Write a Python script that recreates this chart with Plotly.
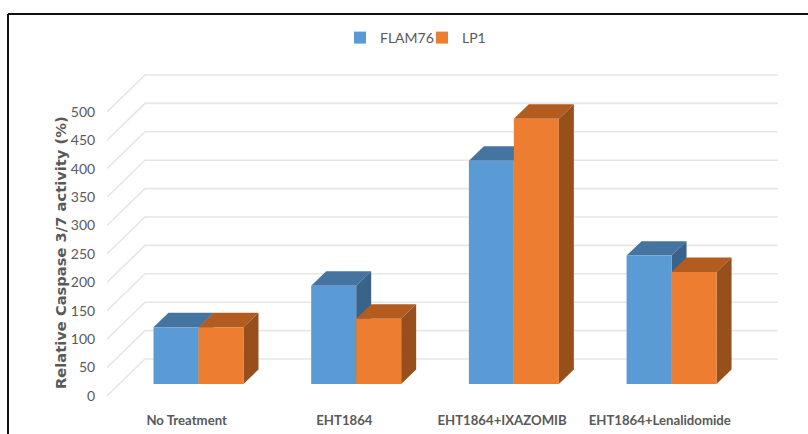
import plotly.graph_objects as go

categories = ["No Treatment", "EHT1864", "EHT1864+IXAZOMIB", "EHT1864+Lenalidomide"]
flam76 = [100, 173, 393, 226]
lp1 = [100, 115, 467, 197]
y_ticks = [0, 50, 100, 150, 200, 250, 300, 350, 400, 450, 500]

BLUE, BLUE_TOP, BLUE_SIDE = "#5B9BD5", "#44749F", "#3A6389"
ORANGE, ORANGE_TOP, ORANGE_SIDE = "#ED7D31", "#B35C20", "#974F1B"
GREY = "#595959"
FONT = "Lato"

# Oblique projection, expressed in axis units
BAR_W = 0.2853      # width of one bar (category units)
DEPTH_X = 0.0951    # horizontal shift of a bar's depth
DEPTH_Y = 25.5      # vertical shift of a bar's depth
WALL_Y = 44.0       # back wall sits this far above the bar base plane
FLOOR_Y = -21.0     # front edge of the floor, relative to the bar base plane
WALL_X0, FLOOR_X0, X1 = -0.3393, -0.5802, 3.675
LABEL_SHIFT = -0.075

fig = go.Figure()

# Back-wall gridlines with their diagonals running down to the front edge
gx, gy = [], []
for t in y_ticks:
    gx += [FLOOR_X0, WALL_X0, X1, None]
    gy += [t + FLOOR_Y, t + WALL_Y, t + WALL_Y, None]
fig.add_trace(go.Scatter(x=gx, y=gy, mode="lines", line=dict(color="#E6E6E6", width=1.6),
                         hoverinfo="skip", showlegend=False, zorder=0))


def depth_faces(x0, x1, values, top_col, side_col, z):
    """Draw the top and right faces of a row of bars."""
    for i, v in enumerate(values):
        l, r = i + x0, i + x1
        fig.add_trace(go.Scatter(
            x=[l, r, r + DEPTH_X, l + DEPTH_X, l],
            y=[v, v, v + DEPTH_Y, v + DEPTH_Y, v],
            mode="lines", fill="toself", fillcolor=top_col, line=dict(width=0),
            hoverinfo="skip", showlegend=False, zorder=z))
        fig.add_trace(go.Scatter(
            x=[r, r + DEPTH_X, r + DEPTH_X, r, r],
            y=[0, DEPTH_Y, v + DEPTH_Y, v, 0],
            mode="lines", fill="toself", fillcolor=side_col, line=dict(width=0),
            hoverinfo="skip", showlegend=False, zorder=z))


idx = list(range(len(categories)))
depth_faces(-BAR_W, 0, flam76, BLUE_TOP, BLUE_SIDE, 1)
fig.add_trace(go.Bar(x=idx, y=flam76, name="FLAM76", marker=dict(color=BLUE, line=dict(width=0)),
                     offsetgroup="a", zorder=2))
depth_faces(0, BAR_W, lp1, ORANGE_TOP, ORANGE_SIDE, 3)
fig.add_trace(go.Bar(x=idx, y=lp1, name="LP1", marker=dict(color=ORANGE, line=dict(width=0)),
                     offsetgroup="b", zorder=4))

fig.update_layout(
    width=808, height=434, margin=dict(l=0, r=0, t=0, b=0),
    paper_bgcolor="white", plot_bgcolor="white",
    barmode="group", bargap=1 - 2 * BAR_W, bargroupgap=0,
    font=dict(family=FONT, color=GREY),
    hovermode=False,
    xaxis=dict(domain=[107 / 808, 778 / 808], range=[FLOOR_X0, X1], showgrid=False, zeroline=False,
               showline=False, tickmode="array", tickvals=[i + LABEL_SHIFT for i in idx],
               ticktext=[f"<b>{c}</b>" for c in categories], ticks="outside", ticklen=3,
               tickcolor="rgba(0,0,0,0)", tickfont=dict(family=FONT, size=13.2, color=GREY)),
    yaxis=dict(domain=[29 / 434, 1], range=[-37, 676], showgrid=False, zeroline=False, showline=False,
               tickmode="array", tickvals=[t + FLOOR_Y for t in y_ticks],
               ticktext=[str(t) for t in y_ticks], ticks="outside", ticklen=8,
               tickcolor="rgba(0,0,0,0)", tickfont=dict(family=FONT, size=14, color=GREY)),
    legend=dict(orientation="h", x=340 / 808, xanchor="left", y=1 - 38 / 434, yanchor="middle",
                font=dict(family=FONT, size=14, color=GREY), itemwidth=30,
                entrywidth=37, entrywidthmode="pixels",
                bgcolor="rgba(0,0,0,0)", traceorder="normal"),
    annotations=[dict(text="<b>Relative Caspase 3/7 activity (%)</b>", textangle=-90,
                      x=60 / 808, y=1 - 253 / 434, xref="paper", yref="paper", showarrow=False,
                      xanchor="center", yanchor="middle",
                      font=dict(family="DejaVu Sans", size=14.7, color=GREY))],
    shapes=[
        dict(type="line", xref="paper", yref="paper", x0=8 / 808, x1=1, y0=1 - 14 / 434, y1=1 - 14 / 434,
             line=dict(color="#111111", width=2)),
        dict(type="line", xref="paper", yref="paper", x0=8 / 808, x1=8 / 808, y0=0, y1=1 - 14 / 434,
             line=dict(color="#111111", width=2)),
    ],
)

fig.write_html("out.html", config=dict(displayModeBar=False))
